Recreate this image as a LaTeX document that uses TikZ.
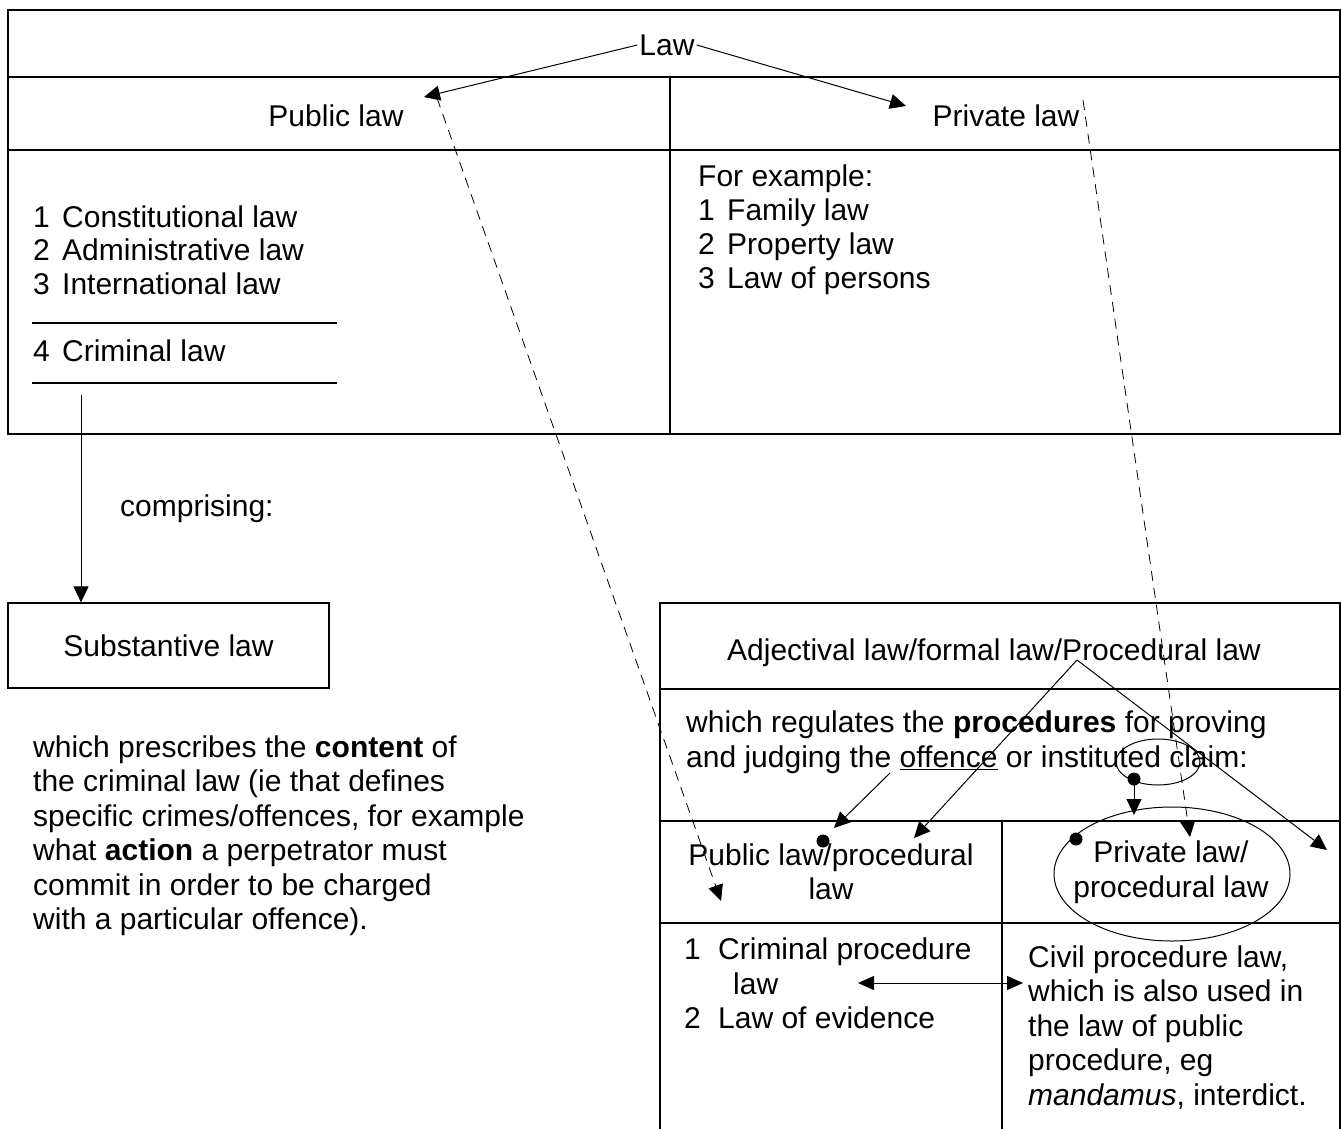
\documentclass[tikz,border=0pt]{standalone}
\usepackage{fontspec}
\setmainfont{Liberation Sans}
\usetikzlibrary{arrows.meta}
\newcommand{\itm}[1]{\makebox[29pt][l]{#1}}
\begin{document}
\begin{tikzpicture}[x=1pt,y=-1pt,
  box/.style={line width=1.5pt},
  conn/.style={line width=1pt},
  tip/.style={-{Triangle[length=16pt,width=15pt]}},
  dtip/.style={{Triangle[length=16pt,width=14pt]}-{Triangle[length=16pt,width=14pt]}},
  dashline/.style={line width=0.8pt, dash pattern=on 10pt off 7pt},
  txt/.style={inner sep=0pt, font=\fontsize{30}{34.5}\selectfont},
  ln/.style={txt, anchor=base west},
  dotmark/.style={circle, fill, inner sep=0pt, minimum size=13pt}
]
\useasboundingbox (0,0) rectangle (1341,1129);

% ---------- top box ----------
\draw[box] (8,10) rectangle (1340,434);
\draw[box] (8,77) -- (1340,77);
\draw[box] (8,150) -- (1340,150);
\draw[box] (670,77) -- (670,434);

\node[txt, inner sep=2pt] (law) at (667,45) {Law};
\node[txt] (pub) at (336,116) {Public law};
\node[txt] (priv) at (1006,116) {Private law};

\coordinate (pubtip) at (424,97);
\coordinate (privtip) at (906,106);
\draw[conn, tip] (law.west) -- (pubtip);
\draw[conn, tip] (law.east) -- (privtip);

% public list
\node[ln] (c1) at (33,227) {\itm{1}Constitutional law};
\node[ln] (c2) at (33,260.5) {\itm{2}Administrative law};
\node[ln] (c3) at (33,294) {\itm{3}International law};
\draw[line width=1.6pt] (32,323) -- (337,323);
\node[ln] (c4) at (33,361) {\itm{4}Criminal law};
\draw[line width=1.6pt] (32,383) -- (337,383);

% private list
\node[ln] (p0) at (698,186) {For example:};
\node[ln] (p1) at (698,220) {\itm{1}Family law};
\node[ln] (p2) at (698,254) {\itm{2}Property law};
\node[ln] (p3) at (698,288) {\itm{3}Law of persons};

% ---------- substantive ----------
\coordinate (crim) at (81,395);
\node[txt, draw, line width=1.2pt, minimum width=321pt, minimum height=85pt] (subst) at (168.5,645.5) {Substantive law};
\draw[conn, tip] (crim) -- (crim |- subst.north);
\node[ln] (comp) at (120,516) {comprising:};

\node[ln] (s1) at (33,757) {which prescribes the \textbf{content} of};
\node[ln] (s2) at (33,791.5) {the criminal law (ie that defines};
\node[ln] (s3) at (33,826) {specific crimes/offences, for example};
\node[ln] (s4) at (33,860.5) {what \textbf{action} a perpetrator must};
\node[ln] (s5) at (33,895) {commit in order to be charged};
\node[ln] (s6) at (33,929.5) {with a particular offence).};

% ---------- procedural box ----------
\draw[box] (660,1129) -- (660,603) -- (1340,603) -- (1340,1129);
\draw[box] (660,689) -- (1340,689);
\draw[box] (660,821) -- (1340,821);
\draw[box] (660,923) -- (1340,923);
\draw[box] (1002,821) -- (1002,1129);

\node[ln] (adj) at (727,660) {Adjectival law/formal law/Procedural law};
\node[ln] (r1) at (686,732) {which regulates the \textbf{procedures} for proving};
\node[ln] (r2) at (686,767) {and judging the \underline{offence} or instituted claim:};

\node[txt, align=center] (pubproc) at (831,872) {Public law/procedural\\law};
\node[txt, align=center] (privproc) at (1171,872) {Private law/\\procedural law};

\node[ln] (b1) at (684,959) {\makebox[34pt][l]{1}Criminal procedure};
\node[ln] (b2) at (733,994) {law};
\node[ln] (b3) at (684,1028) {\makebox[34pt][l]{2}Law of evidence};

\node[ln] (v1) at (1028,967) {Civil procedure law,};
\node[ln] (v2) at (1028,1001.5) {which is also used in};
\node[ln] (v3) at (1028,1036) {the law of public};
\node[ln] (v4) at (1028,1070.5) {procedure, eg};
\node[ln] (v5) at (1028,1105) {\textit{mandamus}, interdict.};

% ellipses
\draw[conn] (1158,762) ellipse [x radius=42pt, y radius=23pt];
\draw[conn] (1172,874) ellipse [x radius=118pt, y radius=67pt];

% dots
\node[dotmark] (d1) at (1134,779) {};
\node[dotmark] (d2) at (823,841) {};
\node[dotmark] (d3) at (1076,839) {};

\coordinate (d1tip) at (1134,815);
\draw[conn, tip] (d1.center) -- (d1tip);

% arrows from Adjectival
\coordinate (apex) at (1077,660);
\coordinate (aleft) at (914,838);
\coordinate (aright) at (1327,850);
\draw[conn, tip] (apex) -- (aleft);
\draw[conn, tip] (apex) -- (aright);

% from offence
\coordinate (offs) at (890,773);
\coordinate (offt) at (834,828);
\draw[conn, tip] (offs) -- (offt);

% double arrow
\coordinate (dl) at (858,983);
\coordinate (dr) at (1023,983);
\draw[conn, dtip] (dl) -- (dr);

% dashed
\coordinate (da1) at (437,98);
\coordinate (da2) at (721,901);
\draw[dashline, tip] (da1) -- (da2);
\coordinate (db1) at (1083,100);
\coordinate (db2) at (1190,837);
\draw[dashline, tip] (db1) -- (db2);
\end{tikzpicture}
\end{document}
